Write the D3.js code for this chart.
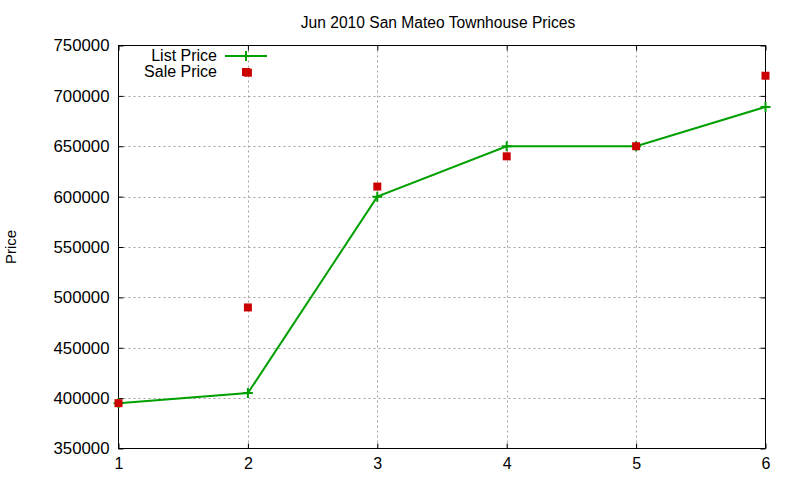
<!DOCTYPE html>
<html>
<head>
<meta charset="utf-8">
<script src="https://cdn.jsdelivr.net/npm/d3@7"></script>
<style>
  body { margin: 0; background: #fff; }
  text { font-family: "Liberation Sans", Arial, sans-serif; fill: #000; }
</style>
</head>
<body>
<script>
// chart data
var listX = [1, 2, 3, 4, 5, 6];
var listPrice = [395000, 405000, 600000, 650000, 650000, 689000];
var saleX = [1, 2, 2, 3, 4, 5, 6];
var salePrice = [395000, 723000, 490000, 610000, 640000, 650000, 720000];
var xTicks = [1, 2, 3, 4, 5, 6];
var yTicks = [350000, 400000, 450000, 500000, 550000, 600000, 650000, 700000, 750000];

var width = 800, height = 480;
var plotLeft = 118.5, plotRight = 765.5, plotTop = 45.5, plotBottom = 448.5;

var svg = d3.select("body").append("svg")
    .attr("width", width)
    .attr("height", height);

var x = d3.scaleLinear().domain([1, 6]).range([plotLeft, plotRight]);
var y = d3.scaleLinear().domain([350000, 750000]).range([plotBottom, plotTop]);

// grid lines
var grid = svg.append("g").attr("class", "grid")
    .attr("stroke", "#a0a0a0")
    .attr("stroke-width", 1)
    .attr("stroke-dasharray", "2,3");
grid.selectAll(".vgrid")
    .data(xTicks.slice(1, -1))
    .enter().append("line")
    .attr("x1", function(d){ return Math.round(x(d)) + 0.5; })
    .attr("x2", function(d){ return Math.round(x(d)) + 0.5; })
    .attr("y1", plotTop).attr("y2", plotBottom);
grid.selectAll(".hgrid")
    .data(yTicks.slice(1, -1))
    .enter().append("line")
    .attr("y1", function(d){ return Math.round(y(d)) + 0.5; })
    .attr("y2", function(d){ return Math.round(y(d)) + 0.5; })
    .attr("x1", plotLeft).attr("x2", plotRight);

// axes with inward ticks, mirrored on opposite side
var fmt = d3.format("d");
var yAxis = d3.axisLeft(y).tickValues(yTicks).tickFormat(fmt).tickSizeInner(-5).tickSizeOuter(0).tickPadding(9);
var yAxisR = d3.axisRight(y).tickValues(yTicks).tickSizeInner(-5).tickSizeOuter(0).tickFormat("");
var xAxis = d3.axisBottom(x).tickValues(xTicks).tickFormat(fmt).tickSizeInner(-5).tickSizeOuter(0).tickPadding(9);
var xAxisT = d3.axisTop(x).tickValues(xTicks).tickSizeInner(-5).tickSizeOuter(0).tickFormat("");

function styleAxis(size){
    return function(g){
        g.select(".domain").remove();
        g.selectAll("line").attr("stroke", "#000");
        g.selectAll("text")
            .style("font-family", "'Liberation Sans', Arial, sans-serif")
            .style("font-size", size)
            .attr("fill", "#000");
    };
}

svg.append("g").attr("transform", "translate(" + plotLeft + ",0)").call(yAxis).call(styleAxis("16.8px"));
svg.append("g").attr("transform", "translate(" + plotRight + ",0)").call(yAxisR).call(styleAxis("16px"));
svg.append("g").attr("transform", "translate(0," + plotBottom + ")").call(xAxis).call(styleAxis("16px"));
svg.append("g").attr("transform", "translate(0," + plotTop + ")").call(xAxisT).call(styleAxis("16px"));

// border
svg.append("rect")
    .attr("x", plotLeft).attr("y", plotTop)
    .attr("width", plotRight - plotLeft).attr("height", plotBottom - plotTop)
    .attr("fill", "none")
    .attr("stroke", "#000")
    .attr("stroke-width", 1);

// list price line
var listData = listX.map(function(d, i){ return {x: d, y: listPrice[i]}; });
var line = d3.line()
    .x(function(d){ return x(d.x); })
    .y(function(d){ return y(d.y); });

svg.append("path")
    .datum(listData)
    .attr("d", line)
    .attr("fill", "none")
    .attr("stroke", "#00a000")
    .attr("stroke-width", 2);

// plus markers
var plusSize = 5;
svg.selectAll(".plus")
    .data(listData)
    .enter().append("path")
    .attr("class", "plus")
    .attr("d", function(d){
        var cx = x(d.x), cy = y(d.y);
        return "M" + (cx - plusSize) + "," + cy + "H" + (cx + plusSize) +
               "M" + cx + "," + (cy - plusSize) + "V" + (cy + plusSize);
    })
    .attr("stroke", "#00a000")
    .attr("stroke-width", 2)
    .attr("fill", "none");

// sale price squares
var saleData = saleX.map(function(d, i){ return {x: d, y: salePrice[i]}; });
var sq = 8;
svg.selectAll(".sale")
    .data(saleData)
    .enter().append("rect")
    .attr("class", "sale")
    .attr("x", function(d){ return x(d.x) - sq / 2; })
    .attr("y", function(d){ return y(d.y) - sq / 2; })
    .attr("width", sq)
    .attr("height", sq)
    .attr("fill", "#cc0000");

// legend
var legend = svg.append("g").attr("class", "legend");
legend.append("text")
    .attr("x", 217).attr("y", 61)
    .attr("text-anchor", "end")
    .style("font-size", "16px")
    .text("List Price");
legend.append("line")
    .attr("x1", 225).attr("x2", 267)
    .attr("y1", 56).attr("y2", 56)
    .attr("stroke", "#00a000")
    .attr("stroke-width", 2);
legend.append("line")
    .attr("x1", 246).attr("x2", 246)
    .attr("y1", 51).attr("y2", 61)
    .attr("stroke", "#00a000")
    .attr("stroke-width", 2);
legend.append("text")
    .attr("x", 217).attr("y", 77)
    .attr("text-anchor", "end")
    .style("font-size", "16px")
    .text("Sale Price");
legend.append("rect")
    .attr("x", 242).attr("y", 68)
    .attr("width", sq).attr("height", sq)
    .attr("fill", "#cc0000");

// title
svg.append("text")
    .attr("x", 438).attr("y", 28)
    .attr("text-anchor", "middle")
    .style("font-size", "15.6px")
    .text("Jun 2010 San Mateo Townhouse Prices");

// y axis label
svg.append("text")
    .attr("transform", "translate(16,247) rotate(-90)")
    .attr("text-anchor", "middle")
    .style("font-size", "15px")
    .text("Price");
</script>
</body>
</html>
